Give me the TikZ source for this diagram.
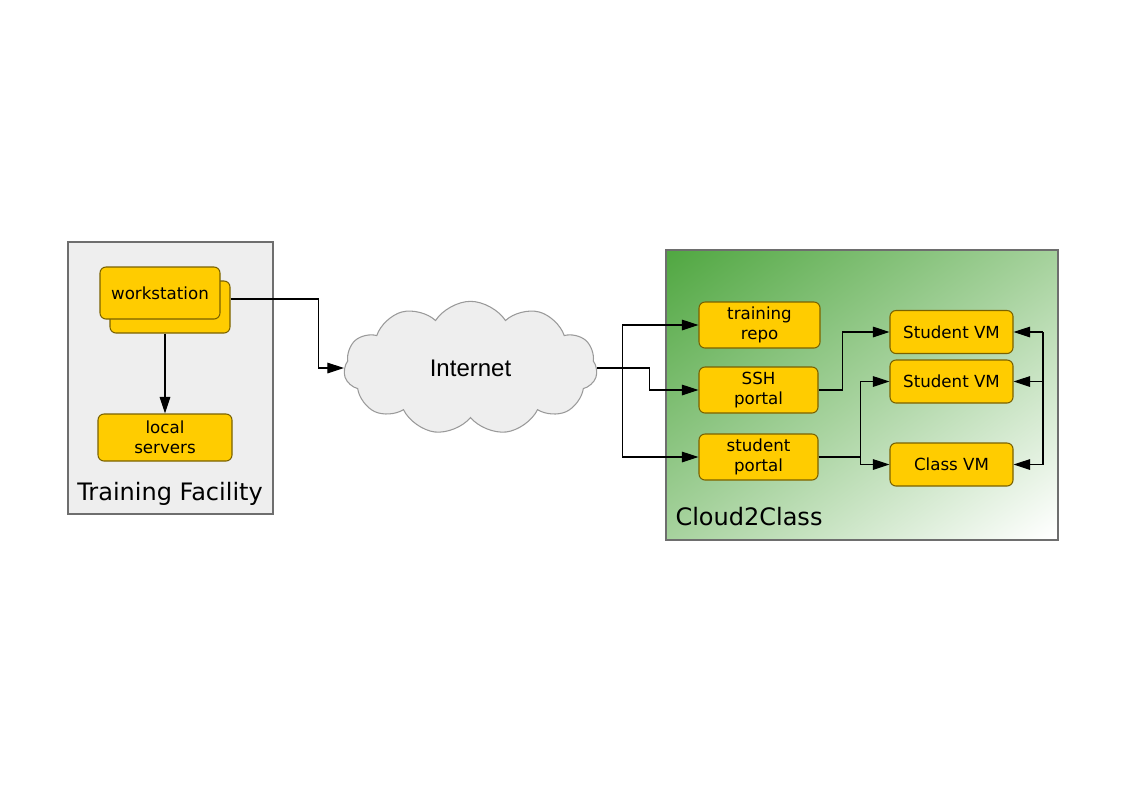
\documentclass[tikz,border=0pt]{standalone}
\usepackage{fontspec}
\setmainfont{DejaVu Sans}
\newfontfamily\inetfont{Liberation Sans}
\usepackage{tikz}
\usetikzlibrary{arrows.meta}
\usetikzlibrary{shapes,calc}
\definecolor{boxfill}{HTML}{FFCC00}
\definecolor{boxline}{HTML}{7A6200}
\definecolor{panelfill}{HTML}{EEEEEE}
\definecolor{panelline}{HTML}{6E6E6E}
\definecolor{cloudline}{HTML}{9A9A9A}
\definecolor{c2cgreen}{HTML}{52A843}
\definecolor{c2cmid}{HTML}{A6D29D}
\pgfdeclareverticalshading{c2cshade}{100bp}{color(0bp)=(white); color(16bp)=(white); color(50bp)=(c2cmid); color(84bp)=(c2cgreen); color(100bp)=(c2cgreen)}

\begin{document}
\begin{tikzpicture}[x=0.75pt, y=-0.75pt]
\tikzset{
panel/.style = {draw=panelline, line width=0.8pt, rectangle, inner sep=0pt},
box/.style = {draw=boxline, fill=boxfill, line width=0.8pt, rectangle, rounded corners=4.5pt, align=center, inner sep=0pt, font=\fontsize{12.5}{15}\selectfont},
vm/.style = {box, minimum width=92.25pt, minimum height=32.25pt},
portal/.style = {box, minimum width=89.25pt, minimum height=34.5pt},
paneltext/.style = {font=\fontsize{18}{21}\selectfont},
line/.style = {draw, line width=0.8pt, -{Triangle[length=12.5pt, width=8pt]}}
}
\useasboundingbox (0,0) rectangle (1123,794);

     \node [panel, fill=panelfill, minimum width=153.75pt, minimum height=204pt] (facility) at (170.5,378) {};
     \node [panel, shading=c2cshade, shading angle=36, minimum width=294pt, minimum height=217.5pt] (cloud2class) at (862,395) {};
     \node [paneltext] (facilitylabel) at (170,494) {Training Facility};
     \node [paneltext] (cloud2classlabel) at (749,517) {Cloud2Class};

     \node [box, minimum width=90pt, minimum height=39pt] (workstationb) at (170,307) {};
     \node [box, minimum width=90pt, minimum height=39pt] (workstation) at (160,293) {workstation};
     \node [box, minimum width=100.5pt, minimum height=35.25pt] (localservers) at (165,437.5) {local\\servers};

     \node [cloud, draw=cloudline, fill=panelfill, line width=0.8pt, cloud puffs=11, cloud puff arc=115, aspect=2, minimum width=190pt, minimum height=100pt, inner sep=0pt, font=\inetfont\fontsize{18}{20}\selectfont] (internet) at (470.5,368) {Internet};

     \node [box, minimum width=90.75pt, minimum height=34.5pt] (repo) at (759.5,325) {training\\repo};
     \node [portal] (sshportal) at (758.5,390) {SSH\\portal};
     \node [portal] (studentportal) at (758.5,457) {student\\portal};
     \node [vm] (studentvma) at (951.5,332) {Student VM};
     \node [vm] (studentvmb) at (951.5,381.5) {Student VM};
     \node [vm] (classvm) at (951.5,464.5) {Class VM};
     \coordinate (vmbus) at (1043,400);

     \path [line] (localservers.north |- workstationb.south) -- (localservers.north);
     \path [line] ([yshift=6pt]workstationb.east) -- ++(88,0) |- (internet.west);
     \path [line] (internet.east) -- ++(52,0) |- (sshportal.west);
     \path [line] (internet.east) -- ++(25,0) |- (repo.west);
     \path [line] (internet.east) -- ++(25,0) |- (studentportal.west);
     \path [line] (sshportal.east) -- ++(24,0) |- (studentvma.west);
     \path [line] (studentportal.east) -- ++(42,0) |- (studentvmb.west);
     \path [line] (studentportal.east) -- ++(42,0) |- (classvm.west);
     \path [draw, line width=0.8pt] (vmbus |- studentvma.east) -- (vmbus |- classvm.east);
     \path [line] (vmbus |- studentvma.east) -- (studentvma.east);
     \path [line] (vmbus |- studentvmb.east) -- (studentvmb.east);
     \path [line] (vmbus |- classvm.east) -- (classvm.east);
\end{tikzpicture}
\end{document}
